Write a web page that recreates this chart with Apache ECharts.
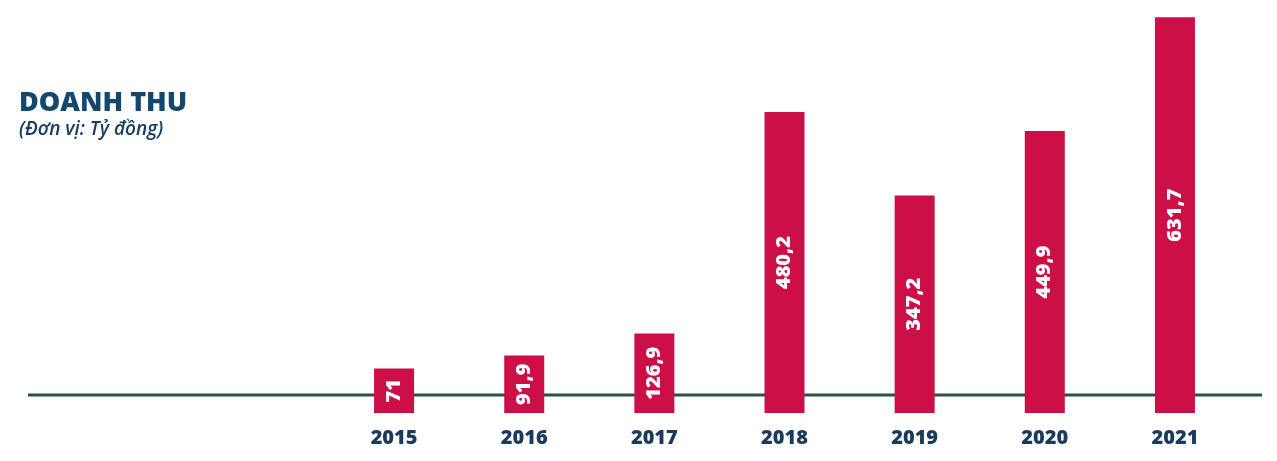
<!DOCTYPE html>
<html>
<head>
<meta charset="utf-8">
<style>
  html, body { margin: 0; padding: 0; background: #ffffff; }
  #chart { width: 1277px; height: 461px; }
</style>
<script src="https://cdn.jsdelivr.net/npm/echarts@6/dist/echarts.min.js"></script>
</head>
<body>
<div id="chart"></div>
<script>
// Doanh thu theo năm (đơn vị: tỷ đồng)
const years = ['2015', '2016', '2017', '2018', '2019', '2020', '2021'];
const revenue = [71, 91.9, 126.9, 480.2, 347.2, 449.9, 631.7];

const chart = echarts.init(document.getElementById('chart'));

chart.setOption({
  animation: false,
  backgroundColor: '#ffffff',
  title: {
    text: 'DOANH THU',
    subtext: '(Đơn vị: Tỷ đồng)',
    left: 14,
    top: 85,
    itemGap: 3,
    textStyle: {
      fontFamily: 'Open Sans',
      fontSize: 27,
      fontWeight: 800,
      letterSpacing: 0.3,
      color: '#12476e'
    },
    subtextStyle: {
      fontFamily: 'Open Sans',
      fontSize: 19,
      fontStyle: 'italic',
      fontWeight: 600,
      color: '#173f64'
    }
  },
  grid: { left: 329, right: 37, top: 12, bottom: 48 },
  xAxis: {
    type: 'category',
    data: years,
    axisLine: { show: false },
    axisTick: { show: false },
    axisLabel: {
      margin: 15,
      fontFamily: 'Open Sans',
      fontSize: 20,
      fontWeight: 800,
      letterSpacing: -0.5,
      color: '#1b3b5c'
    }
  },
  yAxis: {
    type: 'value',
    min: 0,
    max: 640,
    show: false,
    splitLine: { show: false }
  },
  // baseline rule running behind the bars
  graphic: {
    z: -10,
    elements: [{
      type: 'line',
      z: -10,
      shape: { x1: 28, y1: 395, x2: 1262, y2: 395 },
      style: { stroke: '#2b5345', lineWidth: 3 }
    }]
  },
  series: [{
    type: 'bar',
    data: revenue,
    barWidth: 40,
    z: 2,
    itemStyle: { color: '#cc0f46' },
    label: {
      show: true,
      position: 'inside',
      rotate: 90,
      fontFamily: 'Open Sans',
      fontSize: 20,
      fontWeight: 800,
      color: '#ffffff',
      formatter: p => String(p.value).replace('.', ',')
    }
  }]
});
</script>
</body>
</html>
